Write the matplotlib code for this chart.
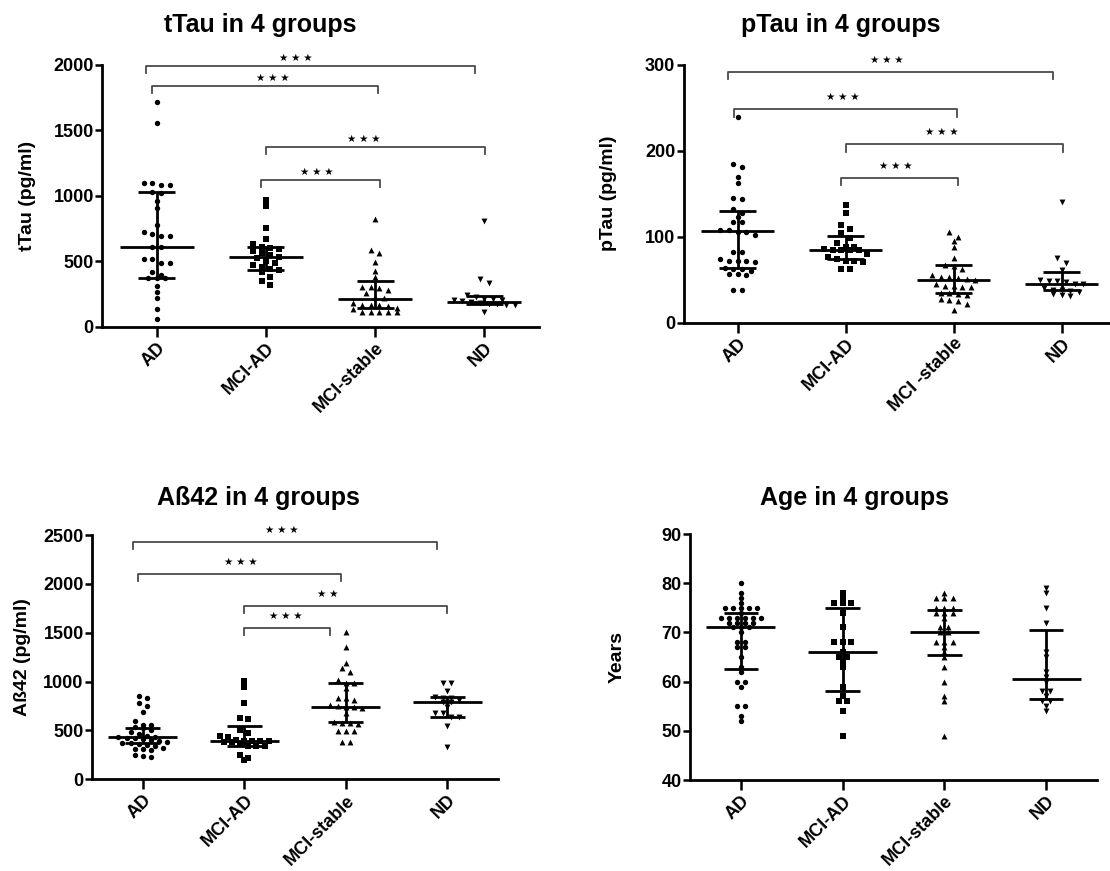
import numpy as np
import matplotlib
matplotlib.use("Agg")
import matplotlib.pyplot as plt

plt.rcParams['font.family'] = ['Liberation Sans', 'DejaVu Sans']
plt.rcParams['font.weight'] = 'bold'
plt.rcParams['axes.labelweight'] = 'bold'

W, H = 1110, 871

# ---- values ----
groups = ["AD", "MCI-AD", "MCI-stable", "ND"]
groups_ptau = ["AD", "MCI-AD", "MCI -stable", "ND"]

# tTau (pg/ml)
ttau_ad = [1718, 1552, 1099, 1099, 1081, 1081, 1030, 1023, 959, 906, 776, 725, 707, 692,
           692, 611, 611, 517, 517, 483, 483, 415, 394, 374, 369, 369, 313, 262, 216, 135, 56]
ttau_mciad = [967, 924, 751, 669, 628, 610, 600, 590, 575, 560, 545, 535, 525, 500, 490,
              470, 455, 440, 430, 420, 380, 349, 318]
ttau_mcist = [822, 585, 560, 494, 425, 382, 305, 300, 293, 280, 254, 229, 216, 178, 165,
              165, 165, 158, 140, 135, 115, 115, 115, 115, 115]
ttau_nd = [809, 364, 336, 242, 230, 215, 210, 205, 200, 195, 186, 180, 175, 170, 168, 165, 115]
ttau_med = [611, 534, 209, 186]
ttau_q1 = [372, 433, 140, 173]
ttau_q3 = [1025, 611, 349, 237]

# pTau (pg/ml)
ptau_ad = [238.8, 184, 180.6, 169.8, 162, 144.6, 143.8, 131.8, 127, 123, 116.7, 116.7, 108,
           108, 106, 106, 102, 81.8, 81.8, 74, 72, 72, 72, 70, 64, 62, 62, 60, 57, 57, 56, 38, 38]
ptau_mciad = [136.8, 127, 113.6, 108.5, 104, 98, 93, 88, 88, 86, 85, 84, 84, 84, 80, 76, 74,
              72, 72, 70, 62, 62]
ptau_mcist = [105.8, 100, 95, 87.6, 74.8, 67, 65.9, 63, 55, 53, 53, 52, 51, 49.6, 45, 43,
              42.6, 42, 41, 35, 34, 33, 32, 27, 26, 25, 22, 14.7]
ptau_nd = [140.7, 74.8, 69, 61.2, 50, 49, 48, 47, 45, 44.6, 40, 38, 38, 37, 36, 33, 32, 31]
ptau_med = [106.6, 84.5, 49.6, 44.6]
ptau_q1 = [63.2, 73.6, 34.9, 38]
ptau_q3 = [129.8, 100.8, 67, 59.3]

# Abeta42 (pg/ml)
ab_ad = [852, 828, 777, 750, 685, 600, 560, 555, 540, 521, 500, 480, 460, 445, 435, 429, 425,
         420, 410, 400, 390, 380, 370, 368, 360, 350, 340, 320, 315, 310, 300, 245, 240, 230]
ab_mciad = [1005, 941, 777, 623, 613, 504, 477, 440, 430, 400, 395, 392, 392, 390, 385, 380,
            360, 345, 344, 340, 249, 215, 198]
ab_mcist = [1510, 1357, 1193, 1142, 1101, 1016, 982, 982, 931, 829, 829, 811, 760, 745, 740,
            735, 730, 675, 590, 580, 573, 565, 498, 498, 490, 385, 385]
ab_nd = [982, 982, 907, 846, 829, 829, 810, 795, 790, 743, 680, 675, 640, 634, 545, 334]
ab_med = [429, 392, 740, 795]
ab_q1 = [368, 344, 583, 634]
ab_q3 = [521, 546, 982, 846]

# Age (years)
age_ad = [80, 78, 77, 76, 75, 75, 75, 75, 75, 74, 73, 73, 73, 73, 73, 73, 72, 72, 72, 72,
          71, 71, 71, 70, 68, 68, 67, 67, 65, 63, 62, 60, 60, 59, 55, 55, 53, 52]
age_mciad = [78, 77, 76, 76, 76, 74, 71, 68, 68, 68, 66, 65, 65, 64, 63, 59, 57, 56, 56, 54, 49]
age_mcist = [78, 77, 77, 77, 75, 75, 75, 74, 74, 74, 73, 71, 71, 70, 70, 68, 68, 68, 67, 66,
             65, 63, 60, 57, 56, 49]
age_nd = [79, 78, 75, 72, 66, 65, 62, 61, 60, 58, 58, 57, 56, 56, 55, 54]
age_med = [71, 66, 70, 60.5]
age_q1 = [62.5, 58, 65.5, 56.4]
age_q3 = [74, 75, 74.5, 70.5]

stars3 = "★ ★ ★"
stars2 = "★ ★"
# significance brackets: (group a, group b, bracket level, label)
ttau_sig = [(0, 3, 1990, stars3), (0, 2, 1837, stars3), (1, 3, 1374, stars3), (1, 2, 1120, stars3)]
ptau_sig = [(0, 3, 291.9, stars3), (0, 2, 248.1, stars3), (1, 3, 207.4, stars3), (1, 2, 168.6, stars3)]
ab_sig = [(0, 3, 2425, stars3), (0, 2, 2098, stars3), (1, 3, 1773, stars2), (1, 2, 1551, stars3)]
# bracket end nudges and star x position (layout only)
ttau_br = [(-0.10, -0.085, 1.27), (-0.045, 0.03, 1.06), (0.0, 0.005, 1.90), (-0.045, 0.045, 1.465)]
ptau_br = [(-0.09, -0.08, 1.38), (-0.03, 0.03, 0.97), (0.0, 0.01, 1.89), (-0.04, 0.04, 1.46)]
ab_br = [(-0.10, -0.10, 1.37), (-0.05, -0.05, 0.97), (0.0, 0.0, 1.82), (0.0, -0.16, 1.41)]

markers = ['o', 's', '^', 'v']
msize = [15, 14, 18, 18]


def swarm(center, vals, bw, step):
    # Prism-like rows: close values share a row and spread sideways
    v = np.sort(np.asarray(vals, float))[::-1]
    xs = np.empty_like(v)
    start = 0
    while start < len(v):
        end = start
        while end + 1 < len(v) and v[start] - v[end + 1] <= bw:
            end += 1
        n = end - start + 1
        xs[start:end + 1] = center + (np.arange(n) - (n - 1) / 2) * step
        start = end + 1
    return xs, v


def add_axes_px(left, top, right, bottom):
    return fig.add_axes([left / W, 1 - bottom / H, (right - left) / W, (bottom - top) / H])


def panel(ax, data, med, q1, q3, bw, ylim, yticks, labels, ylabel):
    for i, vals in enumerate(data):
        xs, ys = swarm(i, vals, bw, 0.08)
        ax.scatter(xs, ys, marker=markers[i], s=msize[i], c='black', linewidths=0,
                   zorder=3, clip_on=False)
        ax.hlines(med[i], i - 0.34, i + 0.34, color='black', lw=2, zorder=4)
        ax.hlines([q1[i], q3[i]], i - 0.17, i + 0.17, color='black', lw=2, zorder=4)
        ax.vlines(i, q1[i], q3[i], color='black', lw=2, zorder=4)
    ax.set_xlim(-0.5, 3.5)
    ax.set_ylim(*ylim)
    ax.set_yticks(yticks)
    ax.set_xticks(range(4))
    ax.set_xticklabels(labels, rotation=45, ha='right', rotation_mode='anchor')
    for s in ['top', 'right']:
        ax.spines[s].set_visible(False)
    for s in ['left', 'bottom']:
        ax.spines[s].set_linewidth(2)
    ax.tick_params(axis='y', length=5, width=1.8, labelsize=13, pad=1)
    ax.tick_params(axis='x', length=7, width=1.8, labelsize=13, pad=2)
    ax.set_ylabel(ylabel, fontsize=14, va='center')


def brackets(ax, sig, br, drop, off):
    for (a, b, y, lab), (dl, dr, sx) in zip(sig, br):
        ax.plot([a + dl, a + dl, b + dr, b + dr], [y - drop, y, y, y - drop],
                color='#4a4a4a', lw=1.3, clip_on=False, zorder=2)
        ax.annotate(lab, xy=(sx, y), xytext=(0, off), textcoords='offset pixels',
                    ha='center', va='center', fontsize=7.5, fontweight='normal',
                    annotation_clip=False)


fig = plt.figure(figsize=(W / 100, H / 100), dpi=100)

ax1 = add_axes_px(102.1, 64.7, 538.9, 326.7)
panel(ax1, [ttau_ad, ttau_mciad, ttau_mcist, ttau_nd], ttau_med, ttau_q1, ttau_q3, 40,
      (0, 2000), range(0, 2001, 500), groups, "tTau (pg/ml)")
brackets(ax1, ttau_sig, ttau_br, 56, 8)
ax1.yaxis.set_label_coords(-0.17, 0.5)

ax2 = add_axes_px(683.7, 64.7, 1115.7, 322.7)
panel(ax2, [ptau_ad, ptau_mciad, ptau_mcist, ptau_nd], ptau_med, ptau_q1, ptau_q3, 6,
      (0, 300), range(0, 301, 100), groups_ptau, "pTau (pg/ml)")
brackets(ax2, ptau_sig, ptau_br, 8.7, 12)
ax2.yaxis.set_label_coords(-0.173, 0.5)

ax3 = add_axes_px(92, 535, 498, 779.3)
panel(ax3, [ab_ad, ab_mciad, ab_mcist, ab_nd], ab_med, ab_q1, ab_q3, 50,
      (0, 2500), range(0, 2501, 500), groups, "Aß42 (pg/ml)")
brackets(ax3, ab_sig, ab_br, 72, 12)
ax3.yaxis.set_label_coords(-0.172, 0.5)

ax4 = add_axes_px(690, 534, 1097, 780)
panel(ax4, [age_ad, age_mciad, age_mcist, age_nd], age_med, age_q1, age_q3, 0.5,
      (40, 90), range(40, 91, 10), groups, "Years")
ax4.yaxis.set_label_coords(-0.179, 0.5)

title_kw = dict(ha='center', va='center', fontsize=18, fontweight='bold')
fig.text(260 / W, 1 - 25 / H, "tTau in 4 groups", **title_kw)
fig.text(841 / W, 1 - 25 / H, "pTau in 4 groups", **title_kw)
fig.text(258 / W, 1 - 498 / H, "Aß42 in 4 groups", **title_kw)
fig.text(854 / W, 1 - 498 / H, "Age in 4 groups", **title_kw)

fig.savefig("out.png", dpi=100)
